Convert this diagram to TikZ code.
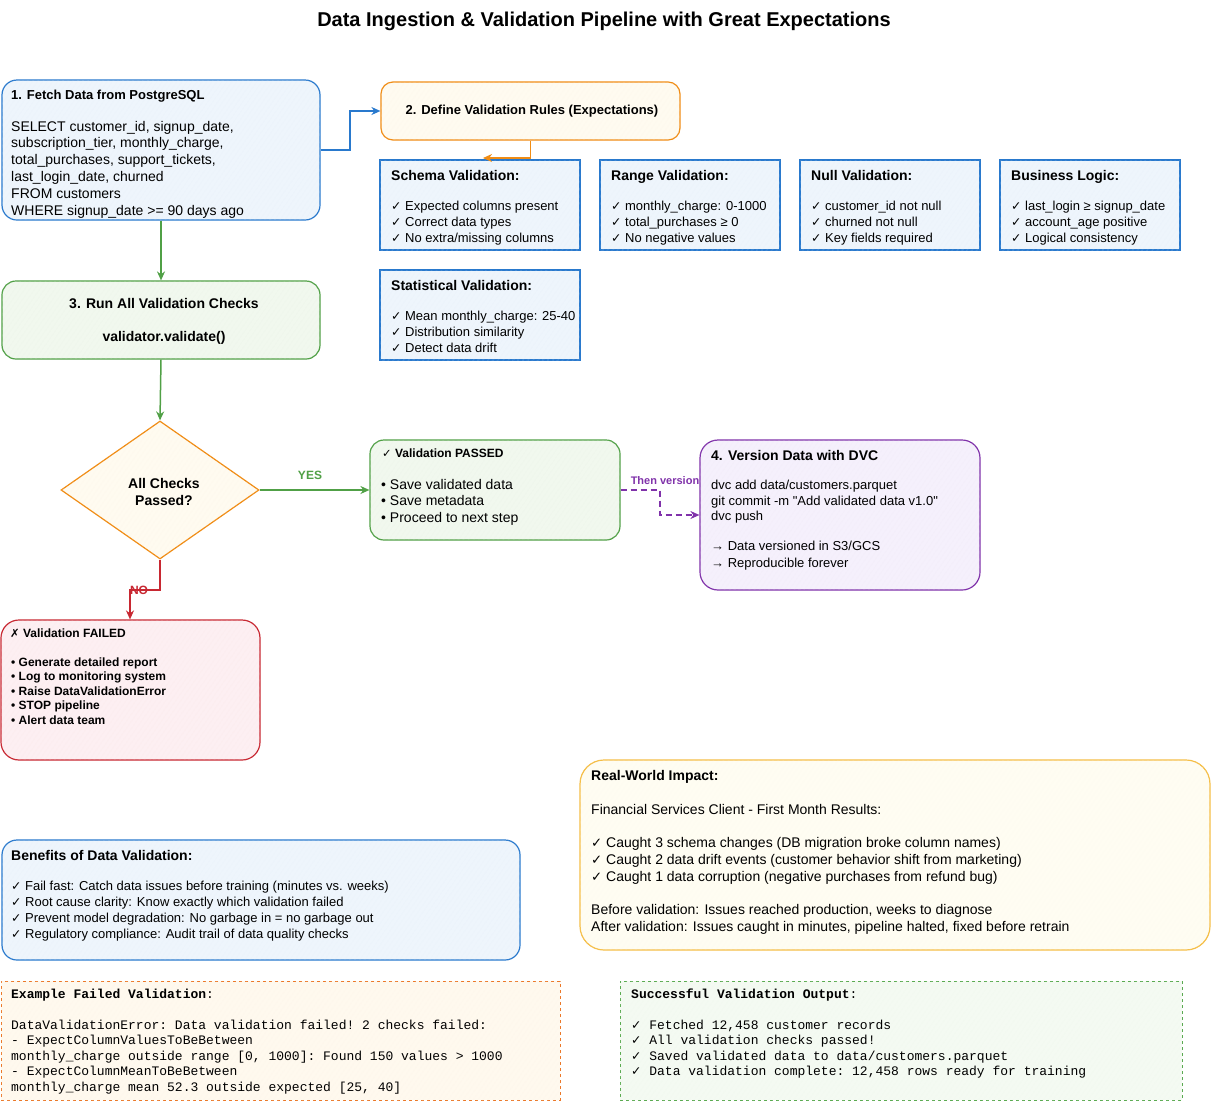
\documentclass[tikz,border=0pt]{standalone}
\usepackage{fontspec}
\setmainfont{Liberation Sans}[Ligatures=TeXOff]
\setmonofont{Liberation Mono}
\newfontfamily\symf[Scale=0.95]{DejaVu Sans}
\usetikzlibrary{arrows.meta,shapes.geometric,patterns.meta}
\definecolor{blueS}{RGB}{41,121,205}
\definecolor{blueF}{RGB}{238,245,252}
\definecolor{oraS}{RGB}{240,140,20}
\definecolor{oraF}{RGB}{255,251,240}
\definecolor{grnS}{RGB}{80,160,70}
\definecolor{grnF}{RGB}{241,248,238}
\definecolor{purS}{RGB}{128,50,170}
\definecolor{purF}{RGB}{245,240,252}
\definecolor{redS}{RGB}{200,40,50}
\definecolor{redF}{RGB}{253,239,242}
\definecolor{yelS}{RGB}{245,190,70}
\definecolor{yelF}{RGB}{255,253,242}
\definecolor{exS}{RGB}{235,120,40}
\definecolor{exF}{RGB}{255,249,238}
\definecolor{okS}{RGB}{90,170,80}
\definecolor{okF}{RGB}{244,250,242}
\newcommand\ck{{\symf ✓}}
\newcommand\xk{{\symf ✗}}
\tikzset{
  fs/.style={font=\fontsize{#1}{#1}\selectfont},
  fsb/.style={font=\fontsize{#1}{#1}\selectfont\bfseries},
  fsm/.style={font=\fontsize{#1}{#1}\selectfont\ttfamily},
  txt/.style={inner sep=0pt, anchor=base west},
  ctxt/.style={inner sep=0pt, anchor=center},
  hatch/.style={postaction={pattern={Lines[angle=55,distance=4pt,line width=0.45pt]}, pattern color=#1}},
  boxbase/.style={draw, line width=1.2pt, inner sep=0pt},
  bluebox/.style={boxbase, draw=blueS, fill=blueF, rounded corners=15pt, hatch=blueS!14},
  rulebox/.style={boxbase, draw=blueS, fill=blueF, hatch=blueS!14},
  orabox/.style={boxbase, draw=oraS, fill=oraF, rounded corners=12pt, hatch=oraS!12},
  grnbox/.style={boxbase, draw=grnS, fill=grnF, rounded corners=14pt, hatch=grnS!16},
  purbox/.style={boxbase, draw=purS, fill=purF, rounded corners=18pt, hatch=purS!14},
  redbox/.style={boxbase, draw=redS, fill=redF, rounded corners=18pt, hatch=redS!14},
  yelbox/.style={boxbase, draw=yelS, fill=yelF, rounded corners=24pt, hatch=yelS!10},
  exbox/.style={boxbase, draw=exS, fill=exF, dashed, line width=1pt, hatch=exS!12},
  okbox/.style={boxbase, draw=okS, fill=okF, dashed, line width=1pt, hatch=okS!14},
  conn/.style={line width=1.8pt, -{Stealth[length=9pt,width=8pt]}},
}
% box by corners: name, x1, y1, x2, y2, style
\newcommand\bx[6]{\node[#6, minimum width={#4-#2}, minimum height={#5-#3}] (#1) at ({(#2+#4)/2},{(#3+#5)/2}) {};}
% lines: prefix, x, first baseline, dy, style, list
\newcommand\tlines[6]{\foreach \tl [count=\ti] in {#6} {\node[txt,#5] (#1\ti) at (#2,{#3+(\ti-1)*#4}) {\tl};}}
\begin{document}
\begin{tikzpicture}[x=1pt,y=-1pt]
\useasboundingbox (0,0) rectangle (1211,1101);
\fill[white] (0,0) rectangle (1211,1101);

\node[ctxt,fsb=20] (title) at (604,21) {Data Ingestion \& Validation Pipeline with Great Expectations};

% boxes
\bx{b1}{2}{80}{320}{220}{bluebox}
\bx{b2}{381}{82}{680}{140}{orabox}
\bx{sch}{380}{160}{580}{250}{rulebox}
\bx{rng}{600}{160}{780}{250}{rulebox}
\bx{nul}{800}{160}{980}{250}{rulebox}
\bx{bus}{1000}{160}{1180}{250}{rulebox}
\bx{stat}{380}{270}{580}{360}{rulebox}
\bx{b3}{2}{281}{320}{359}{grnbox}
\node[diamond, draw=oraS, fill=oraF, hatch=oraS!12, line width=1.2pt, inner sep=0pt, minimum width=198pt, minimum height=138pt] (dia) at (160,490) {};
\bx{pass}{370}{440}{620}{540}{grnbox}
\bx{dvc}{700}{440}{980}{590}{purbox}
\bx{fail}{1}{620}{260}{760}{redbox}
\bx{ben}{2}{840}{520}{960}{bluebox}
\bx{imp}{580}{760}{1210}{950}{yelbox}
\bx{ex}{1}{981}{560}{1100}{exbox}
\bx{ok}{620}{981}{1182}{1100}{okbox}

% connectors
\draw[conn, draw=blueS, line width=1.6pt] (b1.east) -- (350,150) |- (b2.west);
\coordinate (schin) at (483,158);
\draw[conn, draw=oraS, line width=1.6pt] (b2.south) |- (schin);
\draw[conn, draw=grnS, line width=1.5pt] (b1.south) -- (b3.north);
\draw[conn, draw=grnS, line width=1.5pt] (b3.south) -- (dia.north);
\draw[conn, draw=grnS, line width=2.6pt] (dia.east) -- (pass.west);
\draw[conn, draw=purS, dashed, dash pattern=on 6pt off 4pt, line width=1.8pt] (pass.east) -- (660,490) |- (dvc.west);
\draw[conn, draw=redS, line width=2.4pt] (dia.south) -- (160,590) -- (130,590) -- (fail.north -| 130,0);

% labels on connectors
\node[ctxt,fsb=12,text=grnS] (yes) at (310,475) {YES};
\node[ctxt,fsb=11,text=purS] (thenv) at (665,481) {Then version};
\node[ctxt,fsb=12,text=redS] (no) at (139,590) {NO};

% box 1
\node[txt,fsb=13] (b1t) at (11,99) {1. Fetch Data from PostgreSQL};
\tlines{b1l}{11}{131}{16.8}{fs=14}{{SELECT customer\_id, signup\_date,},{subscription\_tier, monthly\_charge,},{total\_purchases, support\_tickets,},{last\_login\_date, churned},{FROM customers},{WHERE signup\_date >= 90 days ago}}

% box 2
\node[ctxt,fsb=13] (b2t) at (532,111) {2. Define Validation Rules (Expectations)};

% rule boxes
\node[txt,fsb=14] (scht) at (391,180) {Schema Validation:};
\tlines{schl}{391}{210.5}{16}{fs=13}{{\ck\ Expected columns present},{\ck\ Correct data types},{\ck\ No extra/missing columns}}
\node[txt,fsb=14] (rngt) at (611,180) {Range Validation:};
\tlines{rngl}{611}{210.5}{16}{fs=13}{{\ck\ monthly\_charge: 0-1000},{\ck\ total\_purchases ≥ 0},{\ck\ No negative values}}
\node[txt,fsb=14] (nult) at (811,180) {Null Validation:};
\tlines{null}{811}{210.5}{16}{fs=13}{{\ck\ customer\_id not null},{\ck\ churned not null},{\ck\ Key fields required}}
\node[txt,fsb=14] (bust) at (1011,180) {Business Logic:};
\tlines{busl}{1011}{210.5}{16}{fs=13}{{\ck\ last\_login ≥ signup\_date},{\ck\ account\_age positive},{\ck\ Logical consistency}}
\node[txt,fsb=14] (statt) at (391,290) {Statistical Validation:};
\tlines{statl}{391}{320.5}{16}{fs=13}{{\ck\ Mean monthly\_charge: 25-40},{\ck\ Distribution similarity},{\ck\ Detect data drift}}

% box 3
\node[ctxt,fsb=14] (b3t) at (164,304) {3. Run All Validation Checks};
\node[ctxt,fsb=14] (b3c) at (164,338) {validator.validate()};

% diamond
\node[ctxt,fsb=14] (dia1) at (164,483) {All Checks};
\node[ctxt,fsb=14] (dia2) at (164,500) {Passed?};

% passed
\node[txt,fsb=12] (passt) at (382,457) {\ck\ Validation PASSED};
\tlines{passl}{381}{489}{16.5}{fs=14}{{• Save validated data},{• Save metadata},{• Proceed to next step}}

% dvc
\node[txt,fsb=14] (dvct) at (711,460) {4. Version Data with DVC};
\tlines{dvcl}{711}{489.5}{15.7}{fs=13}{{dvc add data/customers.parquet},{git commit -m "Add validated data v1.0"},{dvc push}}
\tlines{dvcm}{711}{550.5}{16.5}{fs=13}{{→ Data versioned in S3/GCS},{→ Reproducible forever}}

% failed
\node[txt,fsb=12] (failt) at (10,637) {\xk\ Validation FAILED};
\tlines{faill}{11}{666}{14.5}{fsb=12}{{• Generate detailed report},{• Log to monitoring system},{• Raise DataValidationError},{• STOP pipeline},{• Alert data team}}

% benefits
\node[txt,fsb=14] (bent) at (11,860) {Benefits of Data Validation:};
\tlines{benl}{11}{890.5}{16}{fs=13}{{\ck\ Fail fast: Catch data issues before training (minutes vs. weeks)},{\ck\ Root cause clarity: Know exactly which validation failed},{\ck\ Prevent model degradation: No garbage in = no garbage out},{\ck\ Regulatory compliance: Audit trail of data quality checks}}

% impact
\node[txt,fsb=14] (impt) at (591,780) {Real-World Impact:};
\node[txt,fs=14] (imp1) at (591,814) {Financial Services Client - First Month Results:};
\tlines{impl}{591}{847}{17}{fs=14}{{\ck\ Caught 3 schema changes (DB migration broke column names)},{\ck\ Caught 2 data drift events (customer behavior shift from marketing)},{\ck\ Caught 1 data corruption (negative purchases from refund bug)}}
\tlines{impm}{591}{914}{17}{fs=14}{{Before validation: Issues reached production, weeks to diagnose},{After validation: Issues caught in minutes, pipeline halted, fixed before retrain}}

% example failed
\node[txt,fsm=13] (ext) at (11,998) {\textbf{Example Failed Validation}:};
\tlines{exl}{11}{1029}{15.6}{fsm=13}{{DataValidationError: Data validation failed! 2 checks failed:},{- ExpectColumnValuesToBeBetween},{monthly\_charge outside range [0, 1000]: Found 150 values > 1000},{- ExpectColumnMeanToBeBetween},{monthly\_charge mean 52.3 outside expected [25, 40]}}

% successful
\node[txt,fsm=13] (okt) at (631,998) {\textbf{Successful Validation Output}:};
\tlines{okl}{631}{1029}{15.6}{fsm=13}{{\ck\ Fetched 12,458 customer records},{\ck\ All validation checks passed!},{\ck\ Saved validated data to data/customers.parquet},{\ck\ Data validation complete: 12,458 rows ready for training}}
\end{tikzpicture}
\end{document}
